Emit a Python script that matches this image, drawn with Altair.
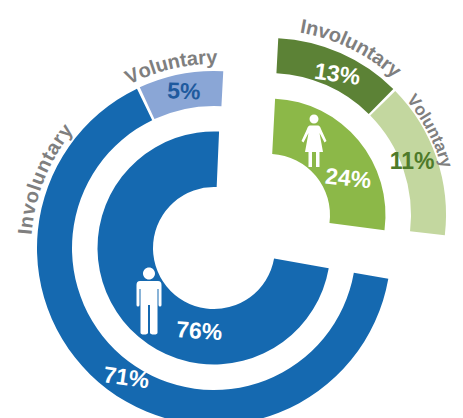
import altair as alt
import pandas as pd

# Arc segments: donut, ring, start / end angle in degrees clockwise from 12 o'clock, colour
seg_donut = ["Men", "Men", "Men", "Women", "Women", "Women"]
seg_name = ["All men", "Men involuntary", "Men voluntary", "All women", "Women involuntary", "Women voluntary"]
seg_ring = ["inner", "outer", "outer", "inner", "outer", "outer"]
seg_start = [100.0, 100.0, 335.2, 3.0, 3.0, 45.5]
seg_end = [362.5, 334.2, 363.0, 97.5, 44.6, 96.6]
seg_color = ["#1569b0", "#1569b0", "#8aa6d6", "#8cb848", "#5c8236", "#c3d79f"]

# Percentage labels
pct_donut = ["Men", "Men", "Men", "Women", "Women", "Women"]
pct_text = ["76%", "71%", "5%", "24%", "13%", "11%"]
pct_theta = [190.0, 214.0, -10.9, 65.5, 25.9, 69.7]
pct_radius = [85, 157, 159, 87, 156, 152.5]
pct_tilt = [4, 8, 2, 6, 8, 0]
pct_color = ["#ffffff", "#ffffff", "#1f5a9e", "#ffffff", "#ffffff", "#4e7a2a"]

# Curved category labels
word_donut = ["Men", "Men", "Women", "Women"]
word_text = ["Involuntary", "Voluntary", "Involuntary", "Voluntary"]
word_from = [-86.0, -27.5, 9.5, 50.0]
word_to = [-50.0, 1.0, 42.5, 75.0]
word_radius = [183, 184, 185, 179]
word_size = [20, 20, 20, 17]

GLYPH = {"I": 278, "n": 611, "v": 556, "o": 611, "l": 278, "u": 611, "t": 333,
         "a": 556, "r": 389, "y": 556, "V": 667}

letters = []
for d, w, a, b, r, s in zip(word_donut, word_text, word_from, word_to, word_radius, word_size):
    total = sum(GLYPH[c] for c in w)
    run = 0
    for c in w:
        th = a + (b - a) * (run + GLYPH[c] / 2) / total
        letters.append({"donut": d, "word": w, "ch": c, "theta": th, "rot": th % 360, "r": r, "fs": s})
        run += GLYPH[c]
letters = pd.DataFrame(letters)

segments = pd.DataFrame({"donut": seg_donut, "name": seg_name, "ring": seg_ring,
                         "start": seg_start, "end": seg_end, "color": seg_color})
pcts = pd.DataFrame({"donut": pct_donut, "label": pct_text, "theta": pct_theta,
                     "r": pct_radius, "tilt": pct_tilt, "color": pct_color})

x_enc = alt.X("donut:N", axis=None, scale=alt.Scale(type="point", padding=0, domain=["Men", "Women"], range=[206, 261]))
y_enc = alt.Y("donut:N", axis=None, scale=alt.Scale(type="point", padding=0, domain=["Men", "Women"], range=[240, 207]))
theta_scale = alt.Scale(domain=[0, 360], range=[0, 6.283185307])
angle_scale = alt.Scale(domain=[0, 360], range=[0, 360])


def ring(name, outer, inner):
    return (
        alt.Chart(segments[segments.ring == name])
        .mark_arc(radius=outer, radius2=inner)
        .encode(
            x=x_enc, y=y_enc,
            theta=alt.Theta("start:Q", scale=theta_scale, stack=None),
            theta2="end:Q",
            color=alt.Color("color:N", scale=None, legend=None),
        )
    )


pct_layer = (
    alt.Chart(pcts)
    .mark_text(font="Liberation Sans", fontWeight="bold", fontSize=23, align="center", baseline="middle")
    .encode(
        x=x_enc, y=y_enc,
        theta=alt.Theta("theta:Q", scale=theta_scale, stack=None),
        radius=alt.Radius("r:Q", scale=None),
        angle=alt.Angle("tilt:Q", scale=angle_scale),
        text="label:N",
        color=alt.Color("color:N", scale=None, legend=None),
    )
)

letter_layer = (
    alt.Chart(letters)
    .mark_text(font="Liberation Sans", fontWeight="bold", align="center", baseline="alphabetic", color="#7f7f7f")
    .encode(
        x=x_enc, y=y_enc,
        theta=alt.Theta("theta:Q", scale=theta_scale, stack=None),
        radius=alt.Radius("r:Q", scale=None),
        angle=alt.Angle("rot:Q", scale=angle_scale),
        size=alt.Size("fs:Q", scale=None, legend=None),
        text="ch:N",
    )
)

MAN = ("M0,-33.5 A6,6 0 1 1 0,-21.5 A6,6 0 1 1 0,-33.5 Z "
       "M-9,-20 L9,-20 Q12.5,-20 12.5,-16 L12.5,4 Q12.5,5.5 11,5.5 Q9.5,5.5 9.5,4 L9.5,-12 L8.5,-12 "
       "L8.5,31.5 Q8.5,33.5 5,33.5 Q1,33.5 1,31.5 L1,4 L-1,4 L-1,31.5 Q-1,33.5 -5,33.5 Q-8.5,33.5 -8.5,31.5 "
       "L-8.5,-12 L-9.5,-12 L-9.5,4 Q-9.5,5.5 -11,5.5 Q-12.5,5.5 -12.5,4 L-12.5,-16 Q-12.5,-20 -9,-20 Z")
WOMAN = ("M0,-26.5 A4.5,4.5 0 1 1 0,-17.5 A4.5,4.5 0 1 1 0,-26.5 Z "
         "M-4,-15.5 L4,-15.5 Q6,-15.5 7,-12 L12.5,0 L10.5,1.5 L5.5,-8 L9,11 L5.5,11 L5.5,26 L2,26 L2,11 "
         "L-2,11 L-2,26 L-5.5,26 L-5.5,11 L-9,11 L-5.5,-8 L-10.5,1.5 L-12.5,0 L-7,-12 Q-6,-15.5 -4,-15.5 Z")


def icon(donut, path, dx, dy):
    return (
        alt.Chart(pd.DataFrame({"donut": [donut]}))
        .mark_point(shape=path, filled=True, color="#ffffff", opacity=1, size=4, xOffset=dx, yOffset=dy, strokeWidth=0)
        .encode(x=x_enc, y=y_enc)
    )


chart = (
    alt.layer(
        ring("inner", 116.5, 61),
        ring("outer", 177, 142),
        icon("Men", MAN, -65, 53),
        icon("Women", WOMAN, 45, -74),
        pct_layer,
        letter_layer,
    )
    .properties(
        width=447, height=410, padding=0,
        autosize=alt.AutoSizeParams(type="none"),
        background="#ffffff",
    )
    .configure_view(stroke=None)
)

chart.save("out.html", embed_options={"renderer": "svg", "actions": False})
